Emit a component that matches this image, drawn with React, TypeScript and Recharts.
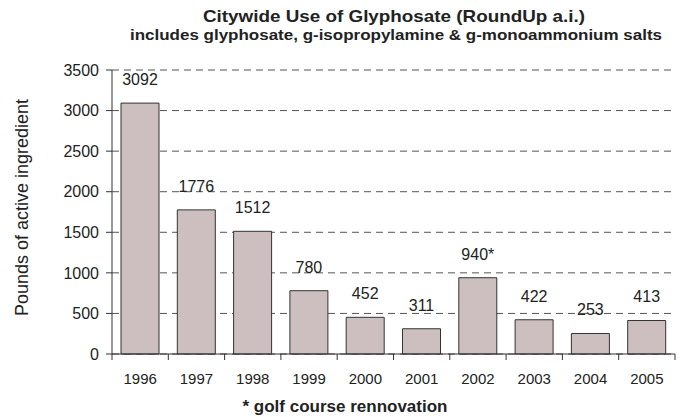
import React from "react";
import { BarChart, Bar, XAxis, YAxis, CartesianGrid, LabelList } from "recharts";

const years = ["1996", "1997", "1998", "1999", "2000", "2001", "2002", "2003", "2004", "2005"];
const pounds = [3092, 1776, 1512, 780, 452, 311, 940, 422, 253, 413];
const valueLabels = ["3092", "1776", "1512", "780", "452", "311", "940*", "422", "253", "413"];
const yTicks = [0, 500, 1000, 1500, 2000, 2500, 3000, 3500];

const titleText = "Citywide Use of Glyphosate (RoundUp a.i.)";
const subtitleText = "includes glyphosate, g-isopropylamine & g-monoammonium salts";
const yAxisLabel = "Pounds of active ingredient";
const footnote = "* golf course rennovation";

const data = years.map((y, i) => ({ year: y, value: pounds[i], label: valueLabels[i] }));

const W = 686;
const H = 417;
const MARGIN = { top: 70, right: 11, bottom: 33, left: 50 };
const Y_AXIS_W = 62;
const PLOT_W = W - MARGIN.left - Y_AXIS_W - MARGIN.right;
const BAND = PLOT_W / years.length;
const FONT = "'Liberation Sans', Arial, sans-serif";
const TEXT = "#222";

const XTick = (props: any) => {
  const { x, y, payload, index } = props;
  const half = BAND / 2;
  return (
    <g>
      {index === 0 && <line x1={x - half} y1={y} x2={x - half} y2={y + 6} stroke="#333" />}
      <line x1={x + half} y1={y} x2={x + half} y2={y + 6} stroke="#333" />
      <text x={x} y={y + 30} textAnchor="middle" fontSize={15} fill={TEXT} fontFamily={FONT}>
        {payload.value}
      </text>
    </g>
  );
};

export default function App() {
  return (
    <div style={{ position: "absolute", left: 0, top: 0, width: W, height: H, background: "#fff" }}>
      <BarChart width={W} height={H} data={data} margin={MARGIN}>
        <CartesianGrid vertical={false} stroke="#555" strokeDasharray="7 5" />
        <XAxis
          dataKey="year"
          axisLine={{ stroke: "#333" }}
          tickLine={false}
          tickSize={0}
          tickMargin={0}
          height={30}
          tick={<XTick />}
          interval={0}
        />
        <YAxis
          width={Y_AXIS_W}
          domain={[0, 3500]}
          ticks={yTicks}
          interval={0}
          axisLine={{ stroke: "#333" }}
          tickLine={{ stroke: "#333" }}
          tickSize={6}
          tickMargin={7}
          tick={{ fontSize: 16, fill: TEXT, fontFamily: FONT }}
        />
        <Bar dataKey="value" fill="#CDBFBF" stroke="#333" strokeWidth={1} barSize={38} isAnimationActive={false}>
          <LabelList dataKey="label" position="top" offset={18} fontSize={16} fill={TEXT} fontFamily={FONT} />
        </Bar>
      </BarChart>
      <svg width={W} height={H} style={{ position: "absolute", left: 0, top: 0, pointerEvents: "none" }}>
        <text x={394} y={22} textAnchor="middle" fontSize={17} fontWeight="bold" fill={TEXT} fontFamily={FONT}
          textLength={382} lengthAdjust="spacingAndGlyphs">
          {titleText}
        </text>
        <text x={396} y={40} textAnchor="middle" fontSize={15} fontWeight="bold" fill={TEXT} fontFamily={FONT}
          textLength={532} lengthAdjust="spacingAndGlyphs">
          {subtitleText}
        </text>
        <text transform="translate(28,207.5) rotate(-90)" textAnchor="middle" fontSize={18} fill={TEXT} fontFamily={FONT}>
          {yAxisLabel}
        </text>
        <text x={345} y={412} textAnchor="middle" fontSize={17} fontWeight="bold" fill={TEXT} fontFamily={FONT}>
          {footnote}
        </text>
      </svg>
    </div>
  );
}
